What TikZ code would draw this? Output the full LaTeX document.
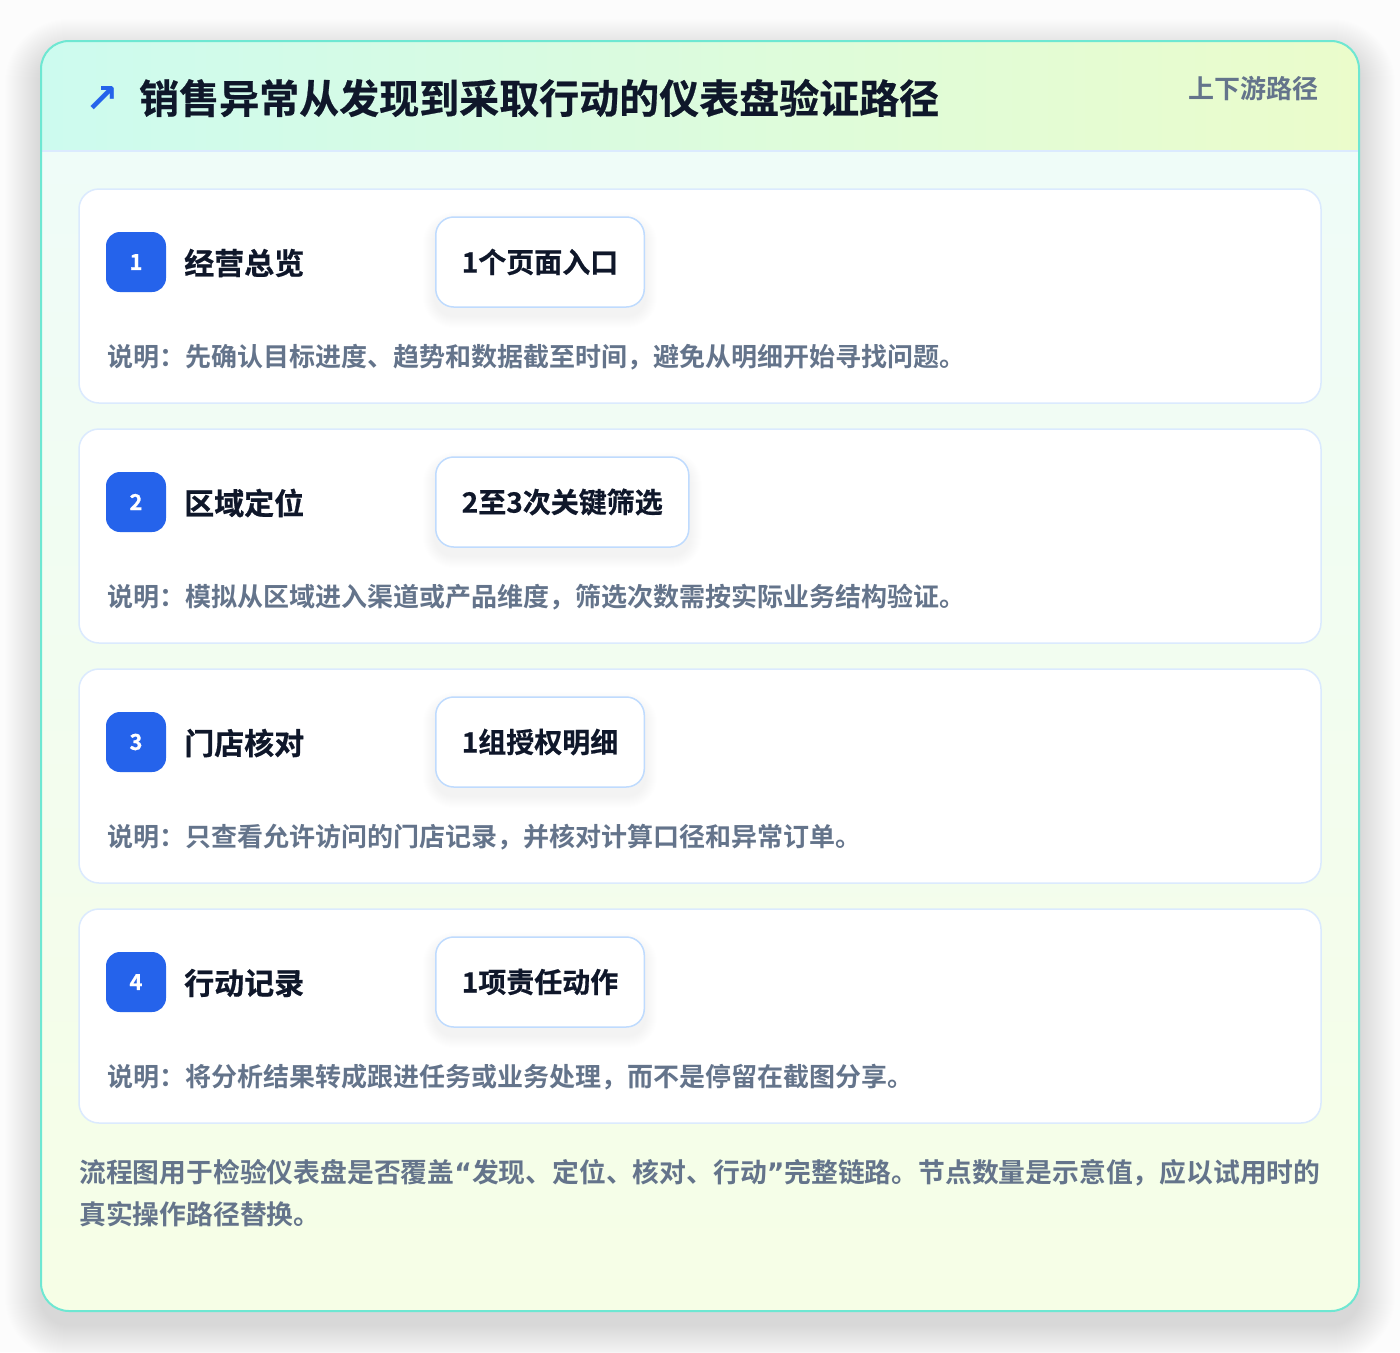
\documentclass[tikz,border=0pt]{standalone}
\usepackage{fontspec}
\setmainfont{Noto Sans CJK SC}[BoldFont={Noto Sans CJK SC Bold}]
\newfontfamily\heavy{Noto Sans CJK SC Bold}[FakeBold=0.6]
\newfontfamily\symfont{DejaVu Sans}
\definecolor{bg}{HTML}{FCFCFC}
\definecolor{tealborder}{HTML}{6EE7D2}
\definecolor{mint}{HTML}{CDFBEF}
\definecolor{lime}{HTML}{EBFCCB}
\definecolor{bodytop}{HTML}{EFFCF8}
\definecolor{bodybot}{HTML}{F6FEE6}
\definecolor{cardline}{HTML}{DBEAFE}
\definecolor{chipline}{HTML}{BFDBFE}
\definecolor{badge}{HTML}{2563EB}
\definecolor{ink}{HTML}{0F172A}
\definecolor{muted}{HTML}{64748B}
\tikzset{
  card/.style={draw=cardline, line width=1.5pt, fill=white, rounded corners=20pt,
    minimum width=1242pt, minimum height=214pt, inner sep=0pt},
  badgebox/.style={fill=badge, rounded corners=14pt, minimum width=60pt, minimum height=60pt,
    inner sep=0pt, text=white, font=\heavy\fontsize{22}{22}\selectfont},
  steplabel/.style={anchor=west, text=ink, font=\heavy\fontsize{30}{30}\selectfont, inner sep=0pt},
  chip/.style={draw=chipline, line width=1.5pt, fill=white, rounded corners=18pt,
    minimum height=90pt, inner xsep=26pt, anchor=west, text=ink,
    font=\heavy\fontsize{28}{28}\selectfont},
  desc/.style={anchor=west, text=muted, font=\fontsize{26}{26}\selectfont\bfseries, inner sep=0pt},
  softshade/.style={fill=black, opacity=0.0028},
}
\newcommand{\chipshadow}[1]{%
  \foreach \i in {1,...,12}{%
    \fill[fill=black, opacity=0.0045, rounded corners={18pt+\i pt}]
      ([shift={(-\i,-\i+8)}]#1.north west) rectangle ([shift={(\i,\i+8)}]#1.south east);
  }}
\begin{document}
\begin{tikzpicture}[x=1pt,y=-1pt]
\useasboundingbox (0,0) rectangle (1400,1352);
\fill[bg] (0,0) rectangle (1400,1352);
% panel shadow
\foreach \i in {1,...,36}{
  \fill[softshade, rounded corners={28pt+\i pt}] (41-\i,41-\i+14) rectangle (1359+\i,1311+\i+14);
}
% panel body
\begin{scope}
  \clip[rounded corners=28pt] (41,41) rectangle (1359,1311);
  \shade[top color=bodytop, bottom color=bodybot] (41,151) rectangle (1359,1311);
  \shade[left color=mint, right color=lime] (41,41) rectangle (1359,151);
  \draw[cardline, line width=1.5pt] (41,151) -- (1359,151);
\end{scope}
\draw[tealborder, line width=2pt, rounded corners=28pt] (41,41) rectangle (1359,1311);
% header
\node[text=badge, font=\symfont\fontsize{40}{40}\selectfont\bfseries, inner sep=0pt] (icon) at (102,99) {↗};
\node[anchor=west, text=ink, font=\heavy\fontsize{40}{40}\selectfont, inner sep=0pt] (title) at (139,98) {销售异常从发现到采取行动的仪表盘验证路径};
\node[anchor=east, text=muted, font=\fontsize{26}{26}\selectfont\bfseries, inner sep=0pt] (tag) at (1319,89) {上下游路径};
% cards
\node[card] (c1) at (700,296) {};
\node[card] (c2) at (700,536) {};
\node[card] (c3) at (700,776) {};
\node[card] (c4) at (700,1016) {};
% chip outlines for shadows
\path node[chip, draw=none, fill=none, text opacity=0] (s1) at (435,262) {1个页面入口}
      node[chip, draw=none, fill=none, text opacity=0] (s2) at (435,502) {2至3次关键筛选}
      node[chip, draw=none, fill=none, text opacity=0] (s3) at (435,742) {1组授权明细}
      node[chip, draw=none, fill=none, text opacity=0] (s4) at (435,982) {1项责任动作};
\chipshadow{s1}\chipshadow{s2}\chipshadow{s3}\chipshadow{s4}
% step 1
\node[badgebox] (b1) at (136,262) {1};
\node[steplabel] (l1) at (184,263) {经营总览};
\node[chip] (k1) at (435,262) {1个页面入口};
\node[desc] (d1) at (107,357) {说明：先确认目标进度、趋势和数据截至时间，避免从明细开始寻找问题。};
% step 2
\node[badgebox] (b2) at (136,502) {2};
\node[steplabel] (l2) at (184,503) {区域定位};
\node[chip] (k2) at (435,502) {2至3次关键筛选};
\node[desc] (d2) at (107,597) {说明：模拟从区域进入渠道或产品维度，筛选次数需按实际业务结构验证。};
% step 3
\node[badgebox] (b3) at (136,742) {3};
\node[steplabel] (l3) at (184,743) {门店核对};
\node[chip] (k3) at (435,742) {1组授权明细};
\node[desc] (d3) at (107,837) {说明：只查看允许访问的门店记录，并核对计算口径和异常订单。};
% step 4
\node[badgebox] (b4) at (136,982) {4};
\node[steplabel] (l4) at (184,983) {行动记录};
\node[chip] (k4) at (435,982) {1项责任动作};
\node[desc] (d4) at (107,1077) {说明：将分析结果转成跟进任务或业务处理，而不是停留在截图分享。};
% footer
\node[anchor=north west, align=left, text=muted, font=\fontsize{26.8}{42}\selectfont\bfseries, inner sep=0pt] (foot) at (79,1159)
  {流程图用于检验仪表盘是否覆盖{\symfont\bfseries “}发现、定位、核对、行动{\symfont\bfseries ”}完整链路。节点数量是示意值，应以试用时的\\真实操作路径替换。};
\end{tikzpicture}
\end{document}
